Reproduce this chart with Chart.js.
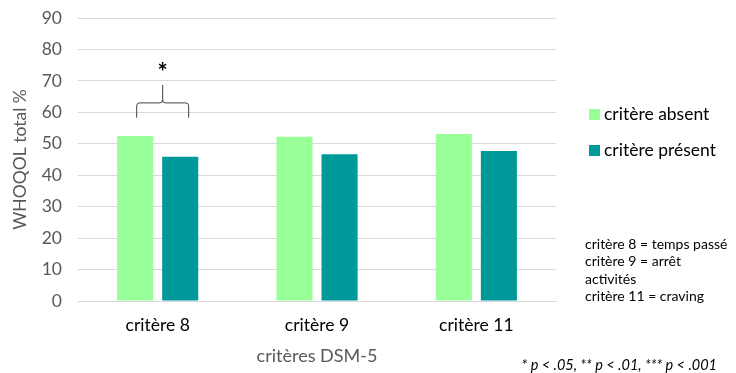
<!DOCTYPE html>
<html>
<head>
<meta charset="utf-8">
<script src="https://cdn.jsdelivr.net/npm/chart.js@4"></script>
<style>
  html, body { margin: 0; padding: 0; background: #fff; }
  #wrap { width: 736px; height: 373px; position: relative; }
</style>
</head>
<body>
<div id="wrap"><canvas id="whoqolChart"></canvas></div>
<script>
// données
const categories = ['critère 8', 'critère 9', 'critère 11'];
const seriesNames = ['critère absent', 'critère présent'];
const absentValues = [52.5, 52.2, 53.1];
const presentValues = [45.9, 46.7, 47.7];
const yTicks = [0, 10, 20, 30, 40, 50, 60, 70, 80, 90];
const notes = ['critère 8 = temps passé', 'critère 9 = arrêt', 'activités', 'critère 11 = craving'];
const footnote = '* p < .05, ** p < .01, *** p < .001';

const colors = ['#99ff99', '#009999'];
const FONT = 'Lato, "Open Sans", sans-serif';

// accolade + astérisque, légende et notes dessinées à la main
const extras = {
    id: 'extras',
    afterDraw(chart) {
        const ctx = chart.ctx;
        const x = chart.scales.x, y = chart.scales.y;
        ctx.save();

        // accolade au-dessus du critère 8
        const cx = x.getPixelForValue(0);
        const x0 = cx - 21, x1 = cx + 31, xm = (x0 + x1) / 2;
        const yb = y.getPixelForValue(58.3), yh = y.getPixelForValue(63), yt = y.getPixelForValue(68.7);
        ctx.strokeStyle = '#404040';
        ctx.lineWidth = 1;
        ctx.beginPath();
        ctx.moveTo(x0, yb);
        ctx.lineTo(x0, yh + 3);
        ctx.quadraticCurveTo(x0, yh, x0 + 3, yh);
        ctx.lineTo(xm - 3, yh);
        ctx.quadraticCurveTo(xm, yh, xm, yh - 3);
        ctx.lineTo(xm, yt);
        ctx.moveTo(xm, yh - 3);
        ctx.quadraticCurveTo(xm, yh, xm + 3, yh);
        ctx.lineTo(x1 - 3, yh);
        ctx.quadraticCurveTo(x1, yh, x1, yh + 3);
        ctx.lineTo(x1, yb);
        ctx.stroke();

        ctx.fillStyle = '#000';
        ctx.font = 'bold 24px ' + FONT;
        ctx.textAlign = 'center';
        ctx.textBaseline = 'middle';
        ctx.fillText('*', xm, y.getPixelForValue(72.3));

        // légende
        ctx.textAlign = 'left';
        ctx.font = '17.5px ' + FONT;
        const legendY = [114, 150];
        seriesNames.forEach((name, i) => {
            ctx.fillStyle = colors[i];
            ctx.fillRect(589, legendY[i] - 5, 11, 11);
            ctx.fillStyle = '#000';
            ctx.fillText(name, 604, legendY[i]);
        });

        // notes
        ctx.font = '14px ' + FONT;
        notes.forEach((t, i) => ctx.fillText(t, 585, 244 + i * 17.5));

        // seuils de significativité
        ctx.font = 'italic 14.5px ' + FONT;
        ctx.textAlign = 'right';
        ctx.fillText(footnote, 717, 365);
        ctx.restore();
    }
};

new Chart(document.getElementById('whoqolChart'), {
    type: 'bar',
    data: {
        labels: categories,
        datasets: [{
            label: seriesNames[0],
            data: absentValues,
            backgroundColor: colors[0],
            categoryPercentage: 0.566,
            barPercentage: 0.8
        }, {
            label: seriesNames[1],
            data: presentValues,
            backgroundColor: colors[1],
            categoryPercentage: 0.566,
            barPercentage: 0.8
        }]
    },
    options: {
        responsive: true,
        maintainAspectRatio: false,
        animation: false,
        layout: { padding: { left: 10, right: 180, top: 18, bottom: 6 } },
        plugins: {
            legend: { display: false },
            tooltip: { enabled: false }
        },
        scales: {
            x: {
                grid: { display: false },
                border: { color: '#d9d9d9', width: 1 },
                ticks: { color: '#000', font: { family: FONT, size: 17.5 }, padding: 6 },
                title: {
                    display: true,
                    text: 'critères DSM-5',
                    color: '#595959',
                    font: { family: FONT, size: 18 },
                    padding: { top: 4, bottom: 0 }
                },
                afterFit(scale) { scale.height = 66; }
            },
            y: {
                min: 0,
                max: 90,
                afterBuildTicks(scale) { scale.ticks = yTicks.map(v => ({ value: v })); },
                grid: { color: '#d9d9d9', drawTicks: false },
                border: { display: false },
                ticks: { color: '#595959', font: { family: FONT, size: 17.5 }, padding: 16 },
                title: {
                    display: true,
                    text: 'WHOQOL total %',
                    color: '#595959',
                    font: { family: FONT, size: 17.5 },
                    padding: 0
                },
                afterFit(scale) {
                    scale.width = 68;
                    scale.paddingTop = 0;
                    scale.paddingBottom = 0;
                }
            }
        }
    },
    plugins: [extras]
});
</script>
</body>
</html>
